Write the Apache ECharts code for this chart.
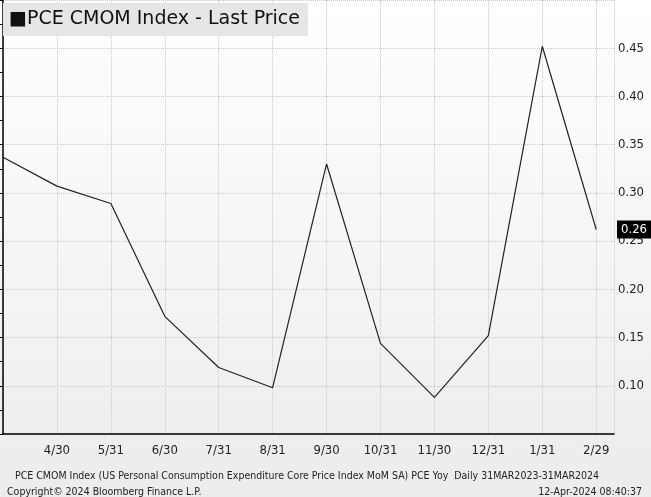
<!DOCTYPE html><html><head><meta charset="utf-8">
<script src="https://cdn.jsdelivr.net/npm/echarts@6/dist/echarts.min.js"></script>
<style>html,body{margin:0;padding:0;background:#fff}#c{width:651px;height:497px}</style></head><body><div id="c"></div>
<script>
const categories=['3/31','4/30','5/31','6/30','7/31','8/31','9/30','10/31','11/30','12/31','1/31','2/29'];
const values=[0.337,0.307,0.289,0.172,0.119,0.098,0.330,0.144,0.088,0.152,0.452,0.262];
const yTicks=[0.10,0.15,0.20,0.25,0.30,0.35,0.40,0.45];
const lastLabel='0.26';
const chart=echarts.init(document.getElementById('c'));
const font='"DejaVu Sans Condensed", "DejaVu Sans", sans-serif';
chart.setOption({
  animation:false,
  backgroundColor:{type:'linear',x:0,y:0,x2:0,y2:1,colorStops:[{offset:0,color:'#ffffff'},{offset:1,color:'#ececec'}]},
  grid:{left:0,right:37,top:0,bottom:63},
  title:[
    {text:'■PCE CMOM Index - Last Price',left:3,top:3,padding:[7,8,7,6],backgroundColor:'#e6e6e6',textStyle:{fontFamily:'"DejaVu Sans", sans-serif',fontSize:19,fontWeight:'normal',color:'#111'}},
    {text:'PCE CMOM Index (US Personal Consumption Expenditure Core Price Index MoM SA) PCE Yoy  Daily 31MAR2023-31MAR2024',left:10,top:466,textStyle:{fontFamily:font,fontSize:10.5,fontWeight:'normal',color:'#222'}},
    {text:'Copyright© 2024 Bloomberg Finance L.P.',left:2,top:482,textStyle:{fontFamily:font,fontSize:10.5,fontWeight:'normal',color:'#222'}},
    {text:'12-Apr-2024 08:40:37',right:4,top:482,textStyle:{fontFamily:font,fontSize:10.5,fontWeight:'normal',color:'#222'}}
  ],
  xAxis:{type:'value',min:0,max:11.33,interval:1,
    axisLine:{lineStyle:{color:'#000',width:1.5}},axisTick:{show:false},
    splitLine:{show:true,lineStyle:{type:'dotted',color:'#c8c8c8'}},
    axisLabel:{fontFamily:font,fontSize:13,color:'#222',margin:10,formatter:v=>(v>0&&Number.isInteger(v)&&categories[v])?categories[v]:''}},
  yAxis:{type:'value',position:'right',min:0.05,max:0.5,interval:0.05,
    axisLine:{show:true,lineStyle:{color:'#000',width:1.5}},
    axisTick:{show:true,inside:true,length:6,lineStyle:{color:'#000'}},
    minorTick:{show:true,splitNumber:2,length:4,lineStyle:{color:'#000'}},
    splitLine:{show:true,lineStyle:{type:'dotted',color:'#c8c8c8'}},
    axisLabel:{fontFamily:font,fontSize:13,color:'#222',margin:4,formatter:v=>yTicks.some(t=>Math.abs(t-v)<1e-6)?v.toFixed(2):''}},
  series:[{type:'line',data:values.map((v,i)=>[i,v]),symbol:'none',lineStyle:{color:'#222',width:1.2},
    markPoint:{symbol:'rect',symbolSize:[0,0],data:[{coord:[11.33,values[11]],label:{show:true,position:'right',offset:[-2,0],formatter:lastLabel,backgroundColor:'#000',color:'#fff',fontFamily:font,fontSize:13,padding:[3,4,2,4]}}]}}]
});
</script></body></html>
